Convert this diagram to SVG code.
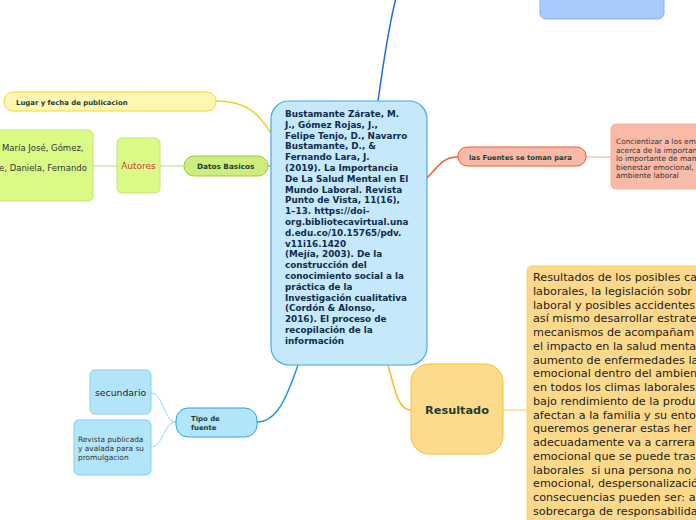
<svg xmlns="http://www.w3.org/2000/svg" width="696" height="520" viewBox="0 0 696 520">
<style>
text{font-family:"DejaVu Sans",Verdana,sans-serif}
.b{font-weight:bold}
.dk{fill:#1b3f33}
.cen{fill:#0f2c4c;font-size:8.8px;font-weight:bold}
.res{fill:#222;font-size:11.2px}
.sm{fill:#333;font-size:7.4px}
.c{fill:none}
</style>
<rect width="696" height="520" fill="#fff"/>
<g id="connectors" class="c">
  <path d="M378,101 C383,65 389,25 396,-2" stroke="#1a6ee0" stroke-width="1.5"/>
  <path d="M216,101 C245,101 258,112 271,133" stroke="#ead22c" stroke-width="1.5"/>
  <path d="M268,166 L272,166" stroke="#9ccc3a" stroke-width="1.5"/>
  <path d="M160,166 L184,166" stroke="#dcedb8" stroke-width="2"/>
  <path d="M93,166 L117,166" stroke="#dcedb8" stroke-width="2"/>
  <path d="M427,178 C440,164 444,157 458,157" stroke="#f05a28" stroke-width="1.5"/>
  <path d="M586,157 L611,157" stroke="#fbc6b4" stroke-width="1.5"/>
  <path d="M298,365 C286,400 276,422 257,422" stroke="#1a9de0" stroke-width="1.5"/>
  <path d="M176,422 C164,422 163,393 151,393" stroke="#93d4f4" stroke-width="1"/>
  <path d="M176,422 C164,422 163,447 151,447" stroke="#93d4f4" stroke-width="1"/>
  <path d="M388,365 C395,390 398,410 411,410" stroke="#f8bb20" stroke-width="1.5"/>
  <path d="M503,410 L527,410" stroke="#fde3a8" stroke-width="2"/>
</g>
<g id="top-node">
  <rect x="540" y="-12" width="124" height="31" rx="6" fill="#a8cbfc" stroke="#86b0f0"/>
</g>
<g id="central">
  <rect x="271" y="101" width="156" height="264" rx="18" fill="#c5e8fb" stroke="#4aa8e6" stroke-width="1.2"/>
  <text class="cen" x="285">
    <tspan x="285" y="117">Bustamante Zárate, M.</tspan>
    <tspan x="285" y="127.8">J., Gómez Rojas, J.,</tspan>
    <tspan x="285" y="138.6">Felipe Tenjo, D., Navarro</tspan>
    <tspan x="285" y="149.4">Bustamante, D., &amp;</tspan>
    <tspan x="285" y="160.2">Fernando Lara, J.</tspan>
    <tspan x="285" y="171">(2019). La Importancia</tspan>
    <tspan x="285" y="181.8">De La Salud Mental en El</tspan>
    <tspan x="285" y="192.6">Mundo Laboral. Revista</tspan>
    <tspan x="285" y="203.4">Punto de Vista, 11(16),</tspan>
    <tspan x="285" y="214.2">1–13. https://doi-</tspan>
    <tspan x="285" y="225">org.bibliotecavirtual.una</tspan>
    <tspan x="285" y="235.8">d.edu.co/10.15765/pdv.</tspan>
    <tspan x="285" y="246.6">v11i16.1420</tspan>
    <tspan x="285" y="257.4">(Mejía, 2003). De la</tspan>
    <tspan x="285" y="268.2">construcción del</tspan>
    <tspan x="285" y="279">conocimiento social a la</tspan>
    <tspan x="285" y="289.8">práctica de la</tspan>
    <tspan x="285" y="300.6">Investigación cualitativa</tspan>
    <tspan x="285" y="311.4">(Cordón &amp; Alonso,</tspan>
    <tspan x="285" y="322.2">2016). El proceso de</tspan>
    <tspan x="285" y="333">recopilación de la</tspan>
    <tspan x="285" y="343.8">información</tspan>
  </text>
</g>
<g id="lugar">
  <rect x="4" y="92" width="212" height="19" rx="9" fill="#fff7b2" stroke="#eed63a"/>
  <text class="b dk" x="16" y="104.5" font-size="6.9">Lugar y fecha de publicacion</text>
</g>
<g id="datos">
  <rect x="184" y="156" width="84" height="20" rx="10" fill="#cdee7e" stroke="#9ccc3a"/>
  <text class="b dk" x="197" y="169" font-size="7.3">Datos Basicos</text>
</g>
<g id="autores">
  <rect x="117" y="138" width="43" height="55" rx="5" fill="#d9fb85" stroke="#c0e478"/>
  <text x="138.5" y="169" font-size="9" fill="#d04040" text-anchor="middle">Autores</text>
</g>
<g id="autores-lista">
  <rect x="-10" y="130" width="103" height="71" rx="5" fill="#d9fb85" stroke="#c0e478"/>
  <text x="2" y="151" font-size="8.5" fill="#333">María José, Gómez,</text>
  <text x="-1" y="171" font-size="8.5" fill="#333">e, Daniela, Fernando</text>
</g>
<g id="fuentes">
  <rect x="458" y="147" width="128" height="19" rx="9" fill="#f9b9a6" stroke="#f05a28"/>
  <text class="b dk" x="469" y="160" font-size="6.9">las Fuentes se toman para</text>
</g>
<g id="concientizar">
  <rect x="611" y="124" width="95" height="65" rx="5" fill="#f9bba8" stroke="#f6ae98"/>
  <text class="sm" x="616">
    <tspan x="616" y="144">Concientizar a los emp</tspan>
    <tspan x="616" y="152.5">acerca de la importanc</tspan>
    <tspan x="616" y="161">lo importante de mante</tspan>
    <tspan x="616" y="169.5">bienestar emocional, p</tspan>
    <tspan x="616" y="178">ambiente laboral</tspan>
  </text>
</g>
<g id="tipo">
  <rect x="176" y="408" width="81" height="29" rx="12" fill="#b3e5fa" stroke="#2ea4e8"/>
  <text class="b dk" font-size="6.9">
    <tspan x="191" y="421">Tipo de</tspan>
    <tspan x="191" y="430">fuente</tspan>
  </text>
</g>
<g id="secundario">
  <rect x="90" y="370" width="61" height="44" rx="5" fill="#b3e5fa" stroke="#86cff2"/>
  <text x="95" y="396" font-size="9.3" fill="#222">secundario</text>
</g>
<g id="revista">
  <rect x="74" y="420" width="77" height="55" rx="5" fill="#b3e5fa" stroke="#86cff2"/>
  <text class="sm" fill="#222">
    <tspan x="78" y="442">Revista publicada</tspan>
    <tspan x="78" y="451">y avalada para su</tspan>
    <tspan x="78" y="460">promulgacion</tspan>
  </text>
</g>
<g id="resultado">
  <rect x="411" y="364" width="92" height="90" rx="18" fill="#fddb8c" stroke="#f8c030"/>
  <text class="b dk" x="457" y="414" font-size="11.3" text-anchor="middle">Resultado</text>
</g>
<g id="resultado-texto">
  <rect x="527" y="266" width="180" height="270" rx="5" fill="#fcd98a" stroke="#f8d070"/>
  <text class="res">
    <tspan x="533" y="281">Resultados de los posibles ca</tspan>
    <tspan x="533" y="294.8">laborales, la legislación sobr</tspan>
    <tspan x="533" y="308.5">laboral y posibles accidentes</tspan>
    <tspan x="533" y="322.3">así mismo desarrollar estrate</tspan>
    <tspan x="533" y="336">mecanismos de acompañam</tspan>
    <tspan x="533" y="349.8">el impacto en la salud menta</tspan>
    <tspan x="533" y="363.6">aumento de enfermedades la</tspan>
    <tspan x="533" y="377.3">emocional dentro del ambien</tspan>
    <tspan x="533" y="391.1">en todos los climas laborales</tspan>
    <tspan x="533" y="404.8">bajo rendimiento de la produ</tspan>
    <tspan x="533" y="418.6">afectan a la familia y su ento</tspan>
    <tspan x="533" y="432.4">queremos generar estas her</tspan>
    <tspan x="533" y="446.1">adecuadamente va a carrera</tspan>
    <tspan x="533" y="459.9">emocional que se puede tras</tspan>
    <tspan x="533" y="473.6">laborales&#160; si una persona no</tspan>
    <tspan x="533" y="487.4">emocional, despersonalizació</tspan>
    <tspan x="533" y="501.2">consecuencias pueden ser: a</tspan>
    <tspan x="533" y="515">sobrecarga de responsabilida</tspan>
  </text>
</g>
</svg>
